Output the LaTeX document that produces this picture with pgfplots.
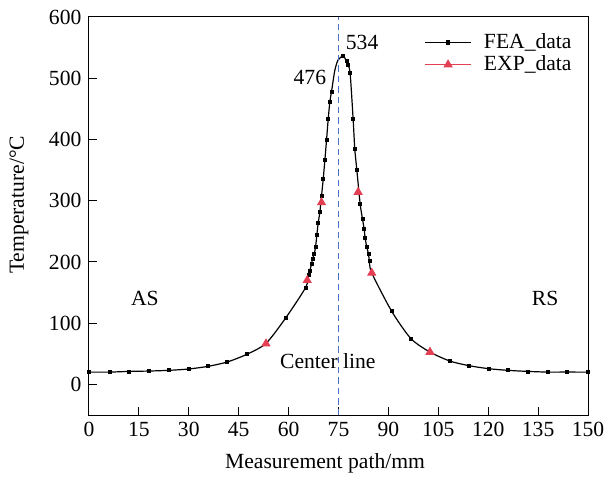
\documentclass[border=0pt]{standalone}
\usepackage{pgfplots}
\pgfplotsset{compat=1.18}
\usepackage{fontspec}
\setmainfont{Liberation Serif}
\definecolor{exp}{RGB}{228,62,82}
\definecolor{cline}{RGB}{72,112,196}
\newcommand{\lblfont}{\fontsize{10.8}{13}\selectfont}
\begin{document}
\lblfont
\begin{tikzpicture}
\begin{axis}[
  scale only axis,
  width=249.5pt, height=199pt,
  xmin=0, xmax=150, ymin=-50, ymax=600,
  xtick={0,15,...,150}, ytick={0,100,...,600},
  tick align=inside,
  xtick pos=bottom, ytick pos=left,
  major tick length=3.8pt,
  axis line style={line width=0.5pt},
  tick style={line width=0.5pt, black},
  /pgf/number format/assume math mode=true,
  ticklabel style={font=\lblfont},
  label style={font=\lblfont},
  xlabel={Measurement path/mm},
  ylabel={Temperature/°C},
  xlabel style={at={(axis description cs:0.473,0)}, anchor=center, yshift=-24pt},
  ylabel style={at={(axis description cs:0,0.528)}, anchor=center, yshift=35pt},
  legend style={draw=none, fill=none, at={(axis description cs:0.668,0.975)}, anchor=north west,
    font=\lblfont, row sep=-2pt, inner sep=1pt},
  legend cell align=left,
]
% FEA curve (line through the data points and read-off curve points)
\addplot[black, line width=0.6pt, smooth, tension=0.45, no markers,
  legend image code/.code={\draw[black, line width=0.6pt] (0cm,0cm) -- (0.8cm,0cm); \draw[black, fill=black] (0.37cm,-0.75pt) rectangle (0.43cm,0.75pt); \path (0.95cm,0);}]
coordinates {
(0,20) (6.3,20.1) (12.1,21.2) (18.0,21.8) (23.9,22.9) (29.9,25.1) (35.7,29.4)
(41.5,36.5) (47.4,49.0) (53.2,67) (59.1,108.3) (65.1,158) (66.0,178) (66.4,186)
(66.9,197) (67.2,205) (67.7,213.5) (68.1,224) (68.5,244.5) (68.9,263.6) (69.4,281.6)
(69.9,307.7) (70.4,335) (70.9,366) (71.4,398.7) (71.9,433) (72.4,461.6) (72.9,478)
(73.9,513) (74.9,530) (76.4,536) (77.4,528) (77.9,521) (78.5,508) (79.4,433) (79.9,384)
(80.5,351) (81.5,295) (82.2,270.7) (82.7,254) (83.0,239.7) (83.5,224) (84.0,213.5)
(84.3,201) (85.0,182) (91.0,119.3) (96.8,74.6) (102.5,52.8) (108.5,38.1) (114.3,30.5)
(120.2,25.6) (126.0,22.9) (131.9,21.2) (137.8,20.1) (143.8,20.1) (150,20)
};
\addlegendentry{FEA\_data}
% FEA data point markers
\addplot[only marks, black, mark=square*, mark size=0.75pt, forget plot]
coordinates {
(0,20) (6.3,20.1) (12.1,21.2) (18.0,21.8) (23.9,22.9) (29.9,25.1) (35.7,29.4)
(41.5,36.5) (47.4,49.0) (59.1,108.3) (65.1,158) (66.0,178) (66.4,186)
(66.9,197) (67.2,205) (67.7,213.5) (68.1,224) (68.5,244.5) (68.9,263.6) (69.4,281.6)
(69.9,307.7) (70.4,335) (70.9,366) (71.4,398.7) (71.9,433) (72.4,461.6) (72.9,478)
(76.4,536) (77.4,528) (77.9,521) (78.5,508) (79.4,433) (79.9,384)
(80.5,351) (81.5,295) (82.2,270.7) (82.7,254) (83.0,239.7) (83.5,224) (84.0,213.5)
(84.3,201) (91.0,119.3) (96.8,74.6) (108.5,38.1) (114.3,30.5)
(120.2,25.6) (126.0,22.9) (131.9,21.2) (137.8,20.1) (143.8,20.1) (150,20)
};
\addplot[only marks, mark=triangle*, mark size=2.3pt, color=exp,
  legend image code/.code={\draw[exp, line width=0.6pt] (0cm,0cm) -- (0.8cm,0cm); \fill[exp] (0.4cm,0cm) ++(0,2.3pt) -- ++(-2pt,-3.45pt) -- ++(4pt,0) -- cycle; \path (0.95cm,0);}]
coordinates {
(53.2,66.5) (65.6,170) (69.9,297) (80.9,314) (85.0,182) (102.5,52.8)
};
\addlegendentry{EXP\_data}
\addplot[cline, dash pattern=on 3.2pt off 2pt, line width=0.8pt, forget plot]
coordinates {(75,-50) (75,600)};
\node at (axis cs:16.8,140.5) {AS};
\node at (axis cs:137.1,140.5) {RS};
\node at (axis cs:71.8,37.6) {Center line};
\node at (axis cs:66.4,501.6) {476};
\node at (axis cs:82.1,558.8) {534};
\end{axis}
\pgfresetboundingbox
\path ([xshift=-44.5pt,yshift=-31pt]current axis.south west) rectangle ([xshift=8.5pt,yshift=8.5pt]current axis.north east);
\end{tikzpicture}
\end{document}
